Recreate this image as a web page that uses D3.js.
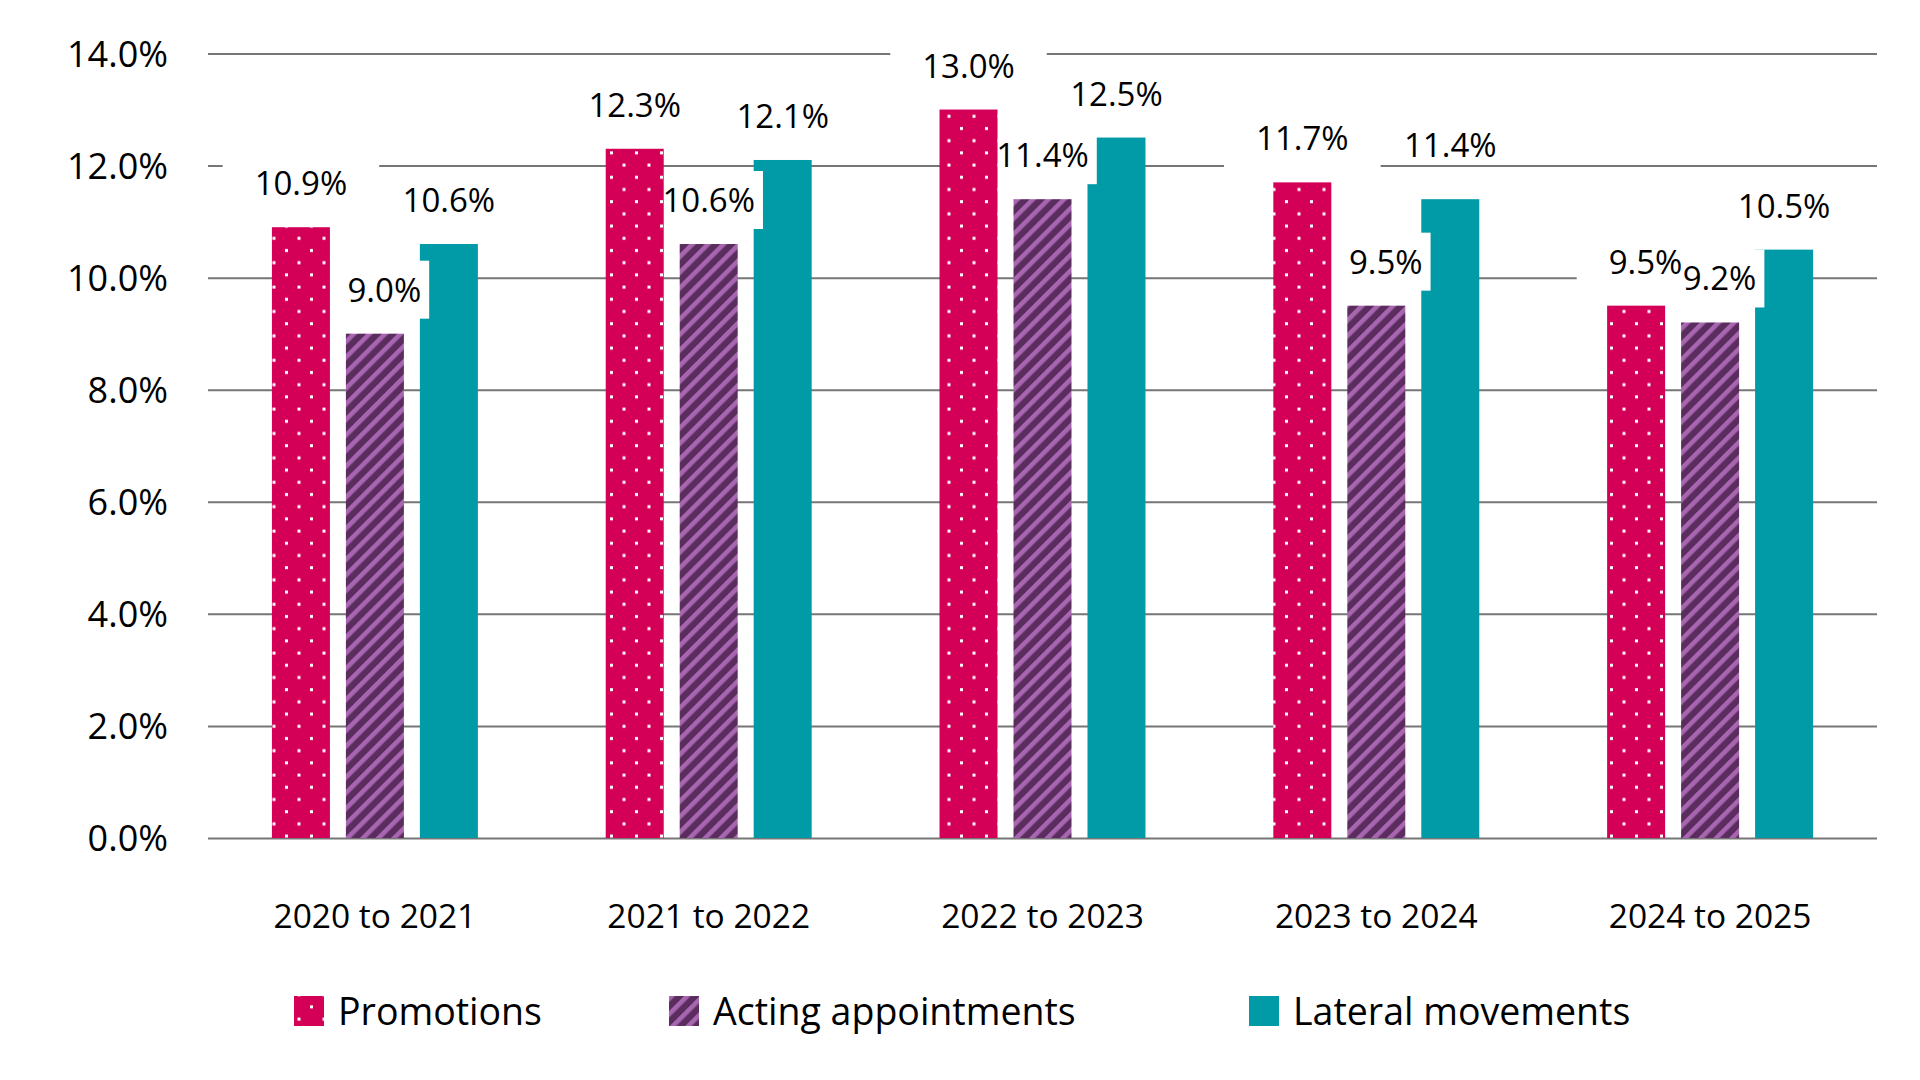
<html>
<head>
<meta charset="utf-8">
<script src="https://d3js.org/d3.v7.min.js"></script>
<style>
  body { margin: 0; background: #fff; }
  text { font-family: "Open Sans", "Noto Sans", sans-serif; fill: #000; }
</style>
</head>
<body>
<div id="chart"></div>

<script>

// data
var categories = ["2020 to 2021", "2021 to 2022", "2022 to 2023", "2023 to 2024", "2024 to 2025"]
var series = ["Promotions", "Acting appointments", "Lateral movements"]
var promotions = [10.9, 12.3, 13.0, 11.7, 9.5]
var acting = [9.0, 10.6, 11.4, 9.5, 9.2]
var lateral = [10.6, 12.1, 12.5, 11.4, 10.5]
var y_ticks = [0, 2, 4, 6, 8, 10, 12, 14]

var values = {"Promotions": promotions, "Acting appointments": acting, "Lateral movements": lateral}

// svg dimensions
var svg_width = 1920
var svg_height = 1080
var plot_left = 208
var plot_right = 1877
var plot_top = 53.5
var plot_bottom = 838

var svg = d3.select("#chart").append("svg")
  .attr("width", svg_width)
  .attr("height", svg_height)

svg.append("rect").attr("width", svg_width).attr("height", svg_height).style("fill", "white")

// fill patterns
var defs = svg.append("defs")

var dots = defs.append("pattern")
  .attr("id", "pat_dots")
  .attr("patternUnits", "userSpaceOnUse")
  .attr("width", 25)
  .attr("height", 24.4)
dots.append("rect").attr("width", 25).attr("height", 24.4).style("fill", "#D40058")
dots.append("rect").attr("x", 10).attr("y", 5).attr("width", 3).attr("height", 3).style("fill", "white")
dots.append("rect").attr("x", 22.5).attr("y", 17.2).attr("width", 3).attr("height", 3).style("fill", "white")
dots.append("rect").attr("x", -2.5).attr("y", 17.2).attr("width", 3).attr("height", 3).style("fill", "white")

var stripes = defs.append("pattern")
  .attr("id", "pat_stripes")
  .attr("patternUnits", "userSpaceOnUse")
  .attr("width", 11)
  .attr("height", 11)
  .attr("patternTransform", "rotate(45)")
stripes.append("rect").attr("width", 11).attr("height", 11).style("fill", "#5B2C5E")
stripes.append("rect").attr("width", 4.6).attr("height", 11).style("fill", "#A866B0")

var fills = {"Promotions": "url(#pat_dots)", "Acting appointments": "url(#pat_stripes)", "Lateral movements": "#009BA6"}

// white box behind each label: [pad left, pad right] or null
var label_box = {"Promotions": [32, 32], "Acting appointments": [32, 8], "Lateral movements": null}

// scales
var x0 = d3.scaleBand()
  .domain(categories)
  .range([plot_left, plot_right])

var x1 = d3.scaleBand()
  .domain(series)
  .range([0, x0.bandwidth()])
  .paddingInner(0.216)
  .paddingOuter(0.864)

var y = d3.scaleLinear()
  .domain([0, 14])
  .range([plot_bottom, plot_top])

// gridlines + y labels
var y_axis = svg.append("g")
  .attr("transform", "translate(" + plot_left + ",0)")
  .call(d3.axisLeft(y)
    .tickValues(y_ticks)
    .tickFormat(function(d) { return d.toFixed(1) + "%" })
    .tickSize(-(plot_right - plot_left))
    .tickPadding(40))

y_axis.select(".domain").remove()
y_axis.selectAll(".tick line").style("stroke", "#767676").style("stroke-width", 2)
y_axis.selectAll(".tick text")
  .style("font-size", "36px")
  .style("font-family", "'Open Sans', sans-serif")
  .attr("dy", "0.36em")

// category labels
var x_axis = svg.append("g")
  .attr("transform", "translate(0," + plot_bottom + ")")
  .call(d3.axisBottom(x0).tickSize(0).tickPadding(66))

x_axis.select(".domain").remove()
x_axis.selectAll(".tick text")
  .style("font-size", "33.5px")
  .style("font-family", "'Open Sans', sans-serif")

// bars, lateral first so label boxes can sit on it, the others above the boxes
var draw_bars = function(layer, subset) {
  categories.forEach(function(c, i) {
    subset.forEach(function(s) {
      layer.append("rect")
        .attr("x", x0(c) + x1(s))
        .attr("width", x1.bandwidth())
        .attr("y", y(values[s][i]))
        .attr("height", y(0) - y(values[s][i]))
        .style("fill", fills[s])
    })
  })
}

var back_bars = svg.append("g")
var box_layer = svg.append("g")
var front_bars = svg.append("g")
var text_layer = svg.append("g")

draw_bars(back_bars, ["Lateral movements"])
draw_bars(front_bars, ["Promotions", "Acting appointments"])

// data labels
var probe = text_layer.append("text").style("font-size", "33px").text("10.0%")
var half_wide = probe.node().getComputedTextLength() / 2
probe.remove()

categories.forEach(function(c, i) {
  series.forEach(function(s) {
    var v = values[s][i]
    var cx = x0(c) + x1(s) + x1.bandwidth() / 2
    var base = y(v) - 32
    var pads = label_box[s]
    if (!pads) {
      // labels without a box are lifted clear of a gridline
      y_ticks.forEach(function(t) {
        if (y(t) > base - 26 && y(t) < base + 4) { base = y(t) - 9 }
      })
    }
    var t = text_layer.append("text")
      .attr("x", cx + half_wide)
      .attr("y", base)
      .attr("text-anchor", "end")
      .style("font-size", "33px")
      .text(v.toFixed(1) + "%")
    if (pads) {
      var w = t.node().getComputedTextLength()
      box_layer.append("rect")
        .attr("x", cx + half_wide - w - pads[0])
        .attr("y", base - 41)
        .attr("width", w + pads[0] + pads[1])
        .attr("height", 58)
        .style("fill", "white")
    }
  })
})

// legend
var legend_x = [294, 669, 1249]
var legend = svg.append("g")
series.forEach(function(s, i) {
  legend.append("rect")
    .attr("x", legend_x[i])
    .attr("y", 996)
    .attr("width", 30)
    .attr("height", 30)
    .style("fill", fills[s])
  legend.append("text")
    .attr("x", legend_x[i] + 44)
    .attr("y", 1025)
    .style("font-size", "37.5px")
    .text(s)
})

</script>
</body>
</html>
